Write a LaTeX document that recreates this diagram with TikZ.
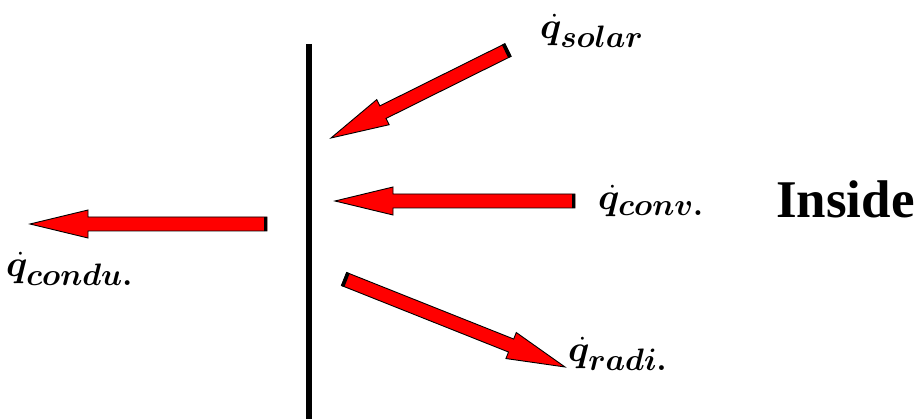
\RequirePackage{fix-cm}
\documentclass[tikz,border=0pt]{standalone}
\usepackage{amsmath}
\usepackage{bm}
\usepackage{fontspec}
\newfontfamily\insidefont[BoldFont={Liberation Serif Bold}]{Liberation Serif}
\DeclareMathSizes{37}{37}{31}{25}
\usetikzlibrary{calc}
\tikzset{
  arrowbody/.style={draw=black, fill=red, line width=0.9pt, line join=miter},
  tailcap/.style={draw=black, line width=3.5pt},
  wall/.style={draw=black, line width=6pt},
  qlabel/.style={inner sep=0pt, font=\fontsize{37}{40}\selectfont},
  insidelabel/.style={inner sep=0pt, font=\insidefont\bfseries\fontsize{53}{58}\selectfont}
}
% block arrow from tail #1 to tip #2
\newcommand\blockarr[2]{%
  \draw[arrowbody] let \p1=(#1), \p2=(#2),
    \n1={atan2(\y2-\y1,\x2-\x1)}, \n2={veclen(\x2-\x1,\y2-\y1)} in
    ($(\p1)+(\n1+90:7pt)$) -- ($(\p1)+(\n1:{(\n2-58)*1pt})+(\n1+90:7pt)$)
    -- ($(\p1)+(\n1:{(\n2-58)*1pt})+(\n1+90:14pt)$) -- (\p2)
    -- ($(\p1)+(\n1:{(\n2-58)*1pt})+(\n1-90:14pt)$)
    -- ($(\p1)+(\n1:{(\n2-58)*1pt})+(\n1-90:7pt)$)
    -- ($(\p1)+(\n1-90:7pt)$) -- cycle;
  \draw[tailcap] let \p1=(#1), \p2=(#2),
    \n1={atan2(\y2-\y1,\x2-\x1)} in
    ($(\p1)+(\n1+90:7.4pt)+(\n1:1.5pt)$) -- ($(\p1)+(\n1-90:7.4pt)+(\n1:1.5pt)$);
}
\begin{document}
\begin{tikzpicture}[x=1pt, y=-1pt]
\useasboundingbox (0,0) rectangle (918,419);
% wall
\coordinate (walltop) at (308.5,44);
\coordinate (wallbot) at (308.5,419);
\draw[wall] (walltop) -- (wallbot);
% arrow end points
\coordinate (solT) at (508,50);
\coordinate (solH) at (331,138);
\coordinate (convT) at (575,201);
\coordinate (convH) at (335,201);
\coordinate (condT) at (267,224);
\coordinate (condH) at (30,224);
\coordinate (radT) at (344,279);
\coordinate (radH) at (565,367);
\blockarr{solT}{solH}
\blockarr{convT}{convH}
\blockarr{condT}{condH}
\blockarr{radT}{radH}
% labels
\node[qlabel, anchor=base west] (qsolar) at (540,39) {$\bm{\dot{q}_{solar}}$};
\node[qlabel, anchor=base west] (qconv) at (598,210) {$\bm{\dot{q}_{conv.}}$};
\node[qlabel, anchor=base west] (qcond) at (6,277) {$\bm{\dot{q}_{condu.}}$};
\node[qlabel, anchor=base west] (qradi) at (568,362) {$\bm{\dot{q}_{radi.}}$};
\node[insidelabel, anchor=base west] (inside) at (776,218) {Inside};
\end{tikzpicture}
\end{document}
